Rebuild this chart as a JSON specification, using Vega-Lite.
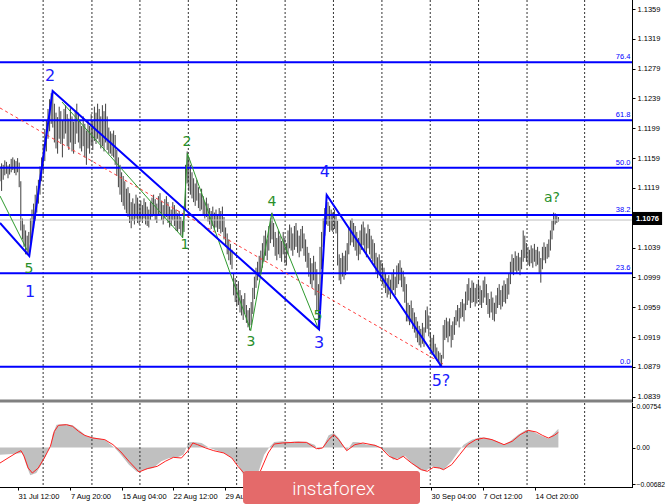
{
"$schema":"https://vega.github.io/schema/vega-lite/v6.json",
"padding":0,
"autosize":{"type":"pad"},
"background":"white",
"spacing":3,
"bounds":"flush",
"config":{"view":{"stroke":null},"font":"Liberation Sans","axis":{"grid":false,"title":null}},
"datasets":{
"bars":[
{"i":0,"l":1.1128,"h":1.1148},{"i":1,"l":1.1115,"h":1.1152},{"i":2,"l":1.1130,"h":1.1150},{"i":3,"l":1.1136,"h":1.1156},{"i":4,"l":1.1138,"h":1.1154},{"i":5,"l":1.1132,"h":1.1149},{"i":6,"l":1.1137,"h":1.1151},{"i":7,"l":1.1140,"h":1.1158},{"i":8,"l":1.1143,"h":1.1160},{"i":9,"l":1.1139,"h":1.1157},
{"i":10,"l":1.1136,"h":1.1155},{"i":11,"l":1.1140,"h":1.1159},{"i":12,"l":1.1120,"h":1.1153},{"i":13,"l":1.1062,"h":1.1128},{"i":14,"l":1.1050,"h":1.1078},{"i":15,"l":1.1040,"h":1.1070},{"i":16,"l":1.1030,"h":1.1062},{"i":17,"l":1.1029,"h":1.1055},{"i":18,"l":1.1032,"h":1.1060},{"i":19,"l":1.1045,"h":1.1078},
{"i":20,"l":1.1055,"h":1.1090},{"i":21,"l":1.1065,"h":1.1098},{"i":22,"l":1.1075,"h":1.1110},{"i":23,"l":1.1086,"h":1.1122},{"i":24,"l":1.1098,"h":1.1130},{"i":25,"l":1.1110,"h":1.1148},{"i":26,"l":1.1128,"h":1.1160},{"i":27,"l":1.1140,"h":1.1178},{"i":28,"l":1.1155,"h":1.1198},{"i":29,"l":1.1168,"h":1.1210},
{"i":30,"l":1.1185,"h":1.1225},{"i":31,"l":1.1195,"h":1.1238},{"i":32,"l":1.1205,"h":1.1246},{"i":33,"l":1.1200,"h":1.1249},{"i":34,"l":1.1180,"h":1.1232},{"i":35,"l":1.1172,"h":1.1220},{"i":36,"l":1.1165,"h":1.1214},{"i":37,"l":1.1185,"h":1.1228},{"i":38,"l":1.1178,"h":1.1222},{"i":39,"l":1.1160,"h":1.1210},
{"i":40,"l":1.1185,"h":1.1225},{"i":41,"l":1.1192,"h":1.1230},{"i":42,"l":1.1175,"h":1.1218},{"i":43,"l":1.1170,"h":1.1212},{"i":44,"l":1.1180,"h":1.1226},{"i":45,"l":1.1168,"h":1.1215},{"i":46,"l":1.1165,"h":1.1208},{"i":47,"l":1.1178,"h":1.1222},{"i":48,"l":1.1192,"h":1.1232},{"i":49,"l":1.1180,"h":1.1220},
{"i":50,"l":1.1172,"h":1.1210},{"i":51,"l":1.1168,"h":1.1202},{"i":52,"l":1.1175,"h":1.1215},{"i":53,"l":1.1160,"h":1.1205},{"i":54,"l":1.1150,"h":1.1196},{"i":55,"l":1.1172,"h":1.1210},{"i":56,"l":1.1165,"h":1.1202},{"i":57,"l":1.1176,"h":1.1218},{"i":58,"l":1.1170,"h":1.1210},{"i":59,"l":1.1182,"h":1.1228},
{"i":60,"l":1.1178,"h":1.1220},{"i":61,"l":1.1185,"h":1.1232},{"i":62,"l":1.1180,"h":1.1225},{"i":63,"l":1.1172,"h":1.1215},{"i":64,"l":1.1175,"h":1.1230},{"i":65,"l":1.1168,"h":1.1222},{"i":66,"l":1.1180,"h":1.1232},{"i":67,"l":1.1170,"h":1.1215},{"i":68,"l":1.1165,"h":1.1200},{"i":69,"l":1.1165,"h":1.1195},
{"i":70,"l":1.1162,"h":1.1192},{"i":71,"l":1.1160,"h":1.1196},{"i":72,"l":1.1150,"h":1.1190},{"i":73,"l":1.1135,"h":1.1170},{"i":74,"l":1.1120,"h":1.1160},{"i":75,"l":1.1110,"h":1.1150},{"i":76,"l":1.1100,"h":1.1140},{"i":77,"l":1.1095,"h":1.1135},{"i":78,"l":1.1090,"h":1.1128},{"i":79,"l":1.1085,"h":1.1118},
{"i":80,"l":1.1080,"h":1.1120},{"i":81,"l":1.1072,"h":1.1112},{"i":82,"l":1.1065,"h":1.1100},{"i":83,"l":1.1075,"h":1.1105},{"i":84,"l":1.1070,"h":1.1098},{"i":85,"l":1.1078,"h":1.1110},{"i":86,"l":1.1072,"h":1.1106},{"i":87,"l":1.1070,"h":1.1098},{"i":88,"l":1.1075,"h":1.1102},{"i":89,"l":1.1072,"h":1.1096},
{"i":90,"l":1.1078,"h":1.1105},{"i":91,"l":1.1070,"h":1.1100},{"i":92,"l":1.1068,"h":1.1094},{"i":93,"l":1.1066,"h":1.1090},{"i":94,"l":1.1076,"h":1.1100},{"i":95,"l":1.1080,"h":1.1106},{"i":96,"l":1.1082,"h":1.1110},{"i":97,"l":1.1076,"h":1.1104},{"i":98,"l":1.1072,"h":1.1098},{"i":99,"l":1.1082,"h":1.1108},
{"i":100,"l":1.1084,"h":1.1112},{"i":101,"l":1.1076,"h":1.1102},{"i":102,"l":1.1070,"h":1.1096},{"i":103,"l":1.1078,"h":1.1104},{"i":104,"l":1.1080,"h":1.1108},{"i":105,"l":1.1072,"h":1.1100},{"i":106,"l":1.1066,"h":1.1094},{"i":107,"l":1.1068,"h":1.1090},{"i":108,"l":1.1076,"h":1.1100},{"i":109,"l":1.1068,"h":1.1096},
{"i":110,"l":1.1062,"h":1.1090},{"i":111,"l":1.1060,"h":1.1085},{"i":112,"l":1.1064,"h":1.1088},{"i":113,"l":1.1056,"h":1.1080},{"i":114,"l":1.1052,"h":1.1075},{"i":115,"l":1.1060,"h":1.1095},{"i":116,"l":1.1090,"h":1.1150},{"i":117,"l":1.1125,"h":1.1168},{"i":118,"l":1.1115,"h":1.1160},{"i":119,"l":1.1110,"h":1.1150},
{"i":120,"l":1.1105,"h":1.1140},{"i":121,"l":1.1100,"h":1.1132},{"i":122,"l":1.1095,"h":1.1125},{"i":123,"l":1.1102,"h":1.1130},{"i":124,"l":1.1092,"h":1.1120},{"i":125,"l":1.1088,"h":1.1112},{"i":126,"l":1.1090,"h":1.1118},{"i":127,"l":1.1082,"h":1.1108},{"i":128,"l":1.1078,"h":1.1100},{"i":129,"l":1.1080,"h":1.1106},
{"i":130,"l":1.1074,"h":1.1098},{"i":131,"l":1.1070,"h":1.1092},{"i":132,"l":1.1064,"h":1.1088},{"i":133,"l":1.1068,"h":1.1094},{"i":134,"l":1.1062,"h":1.1086},{"i":135,"l":1.1066,"h":1.1090},{"i":136,"l":1.1060,"h":1.1084},{"i":137,"l":1.1064,"h":1.1092},{"i":138,"l":1.1058,"h":1.1088},{"i":139,"l":1.1060,"h":1.1094},
{"i":140,"l":1.1050,"h":1.1080},{"i":141,"l":1.1040,"h":1.1066},{"i":142,"l":1.1030,"h":1.1058},{"i":143,"l":1.1022,"h":1.1050},{"i":144,"l":1.1016,"h":1.1044},{"i":145,"l":1.1010,"h":1.1036},{"i":146,"l":1.0975,"h":1.1005},{"i":147,"l":1.0966,"h":1.0998},{"i":148,"l":1.0960,"h":1.0990},{"i":149,"l":1.0962,"h":1.0994},
{"i":150,"l":1.0952,"h":1.0982},{"i":151,"l":1.0948,"h":1.0975},{"i":152,"l":1.0942,"h":1.0970},{"i":153,"l":1.0950,"h":1.0978},{"i":154,"l":1.0938,"h":1.0962},{"i":155,"l":1.0932,"h":1.0955},{"i":156,"l":1.0928,"h":1.0958},{"i":157,"l":1.0935,"h":1.0966},{"i":158,"l":1.0950,"h":1.0985},{"i":159,"l":1.0970,"h":1.1000},
{"i":160,"l":1.0985,"h":1.1012},{"i":161,"l":1.0995,"h":1.1020},{"i":162,"l":1.1000,"h":1.1028},{"i":163,"l":1.1005,"h":1.1035},{"i":164,"l":1.1012,"h":1.1045},{"i":165,"l":1.1020,"h":1.1055},{"i":166,"l":1.1028,"h":1.1062},{"i":167,"l":1.1022,"h":1.1050},{"i":168,"l":1.1035,"h":1.1068},{"i":169,"l":1.1045,"h":1.1078},
{"i":170,"l":1.1050,"h":1.1086},{"i":171,"l":1.1040,"h":1.1072},{"i":172,"l":1.1028,"h":1.1060},{"i":173,"l":1.1022,"h":1.1052},{"i":174,"l":1.1030,"h":1.1062},{"i":175,"l":1.1025,"h":1.1055},{"i":176,"l":1.1020,"h":1.1048},{"i":177,"l":1.1030,"h":1.1060},{"i":178,"l":1.1018,"h":1.1052},{"i":179,"l":1.1015,"h":1.1045},
{"i":180,"l":1.1030,"h":1.1062},{"i":181,"l":1.1038,"h":1.1070},{"i":182,"l":1.1035,"h":1.1066},{"i":183,"l":1.1028,"h":1.1058},{"i":184,"l":1.1036,"h":1.1068},{"i":185,"l":1.1040,"h":1.1072},{"i":186,"l":1.1032,"h":1.1062},{"i":187,"l":1.1026,"h":1.1055},{"i":188,"l":1.1034,"h":1.1064},{"i":189,"l":1.1038,"h":1.1068},
{"i":190,"l":1.1028,"h":1.1058},{"i":191,"l":1.1020,"h":1.1050},{"i":192,"l":1.1012,"h":1.1040},{"i":193,"l":1.1000,"h":1.1032},{"i":194,"l":1.0990,"h":1.1025},{"i":195,"l":1.0985,"h":1.1018},{"i":196,"l":1.0995,"h":1.1028},{"i":197,"l":1.0975,"h":1.1020},{"i":198,"l":1.0955,"h":1.1010},{"i":199,"l":1.0930,"h":1.0990},
{"i":200,"l":1.0950,"h":1.1040},{"i":201,"l":1.1010,"h":1.1060},{"i":202,"l":1.1040,"h":1.1078},{"i":203,"l":1.1055,"h":1.1092},{"i":204,"l":1.1070,"h":1.1110},{"i":205,"l":1.1068,"h":1.1100},{"i":206,"l":1.1060,"h":1.1095},{"i":207,"l":1.1062,"h":1.1090},{"i":208,"l":1.1060,"h":1.1086},{"i":209,"l":1.1064,"h":1.1090},
{"i":210,"l":1.1058,"h":1.1084},{"i":211,"l":1.1015,"h":1.1075},{"i":212,"l":1.0995,"h":1.1030},{"i":213,"l":1.0990,"h":1.1025},{"i":214,"l":1.1000,"h":1.1032},{"i":215,"l":1.0996,"h":1.1028},{"i":216,"l":1.1002,"h":1.1035},{"i":217,"l":1.1008,"h":1.1045},{"i":218,"l":1.1030,"h":1.1066},{"i":219,"l":1.1042,"h":1.1076},
{"i":220,"l":1.1046,"h":1.1078},{"i":221,"l":1.1040,"h":1.1072},{"i":222,"l":1.1035,"h":1.1068},{"i":223,"l":1.1028,"h":1.1060},{"i":224,"l":1.1022,"h":1.1052},{"i":225,"l":1.1030,"h":1.1062},{"i":226,"l":1.1036,"h":1.1070},{"i":227,"l":1.1042,"h":1.1074},{"i":228,"l":1.1034,"h":1.1066},{"i":229,"l":1.1026,"h":1.1058},
{"i":230,"l":1.1038,"h":1.1070},{"i":231,"l":1.1030,"h":1.1064},{"i":232,"l":1.1024,"h":1.1055},{"i":233,"l":1.1020,"h":1.1050},{"i":234,"l":1.1015,"h":1.1045},{"i":235,"l":1.1004,"h":1.1032},{"i":236,"l":1.0998,"h":1.1026},{"i":237,"l":1.1002,"h":1.1030},{"i":238,"l":1.0994,"h":1.1022},{"i":239,"l":1.0990,"h":1.1018},
{"i":240,"l":1.0985,"h":1.1012},{"i":241,"l":1.0978,"h":1.1005},{"i":242,"l":1.0972,"h":1.0998},{"i":243,"l":1.0976,"h":1.1002},{"i":244,"l":1.0970,"h":1.0996},{"i":245,"l":1.0978,"h":1.1004},{"i":246,"l":1.0982,"h":1.1010},{"i":247,"l":1.0975,"h":1.1000},{"i":248,"l":1.0985,"h":1.1015},{"i":249,"l":1.0990,"h":1.1018},
{"i":250,"l":1.0995,"h":1.1022},{"i":251,"l":1.0986,"h":1.1012},{"i":252,"l":1.0980,"h":1.1008},{"i":253,"l":1.0965,"h":1.1000},{"i":254,"l":1.0940,"h":1.0990},{"i":255,"l":1.0940,"h":1.0965},{"i":256,"l":1.0935,"h":1.0962},{"i":257,"l":1.0940,"h":1.0968},{"i":258,"l":1.0930,"h":1.0958},{"i":259,"l":1.0925,"h":1.0952},
{"i":260,"l":1.0918,"h":1.0946},{"i":261,"l":1.0912,"h":1.0940},{"i":262,"l":1.0908,"h":1.0934},{"i":263,"l":1.0905,"h":1.0930},{"i":264,"l":1.0910,"h":1.0938},{"i":265,"l":1.0906,"h":1.0932},{"i":266,"l":1.0925,"h":1.0955},{"i":267,"l":1.0930,"h":1.0960},{"i":268,"l":1.0920,"h":1.0948},{"i":269,"l":1.0900,"h":1.0925},
{"i":270,"l":1.0895,"h":1.0918},{"i":271,"l":1.0898,"h":1.0922},{"i":272,"l":1.0890,"h":1.0910},{"i":273,"l":1.0888,"h":1.0905},{"i":274,"l":1.0885,"h":1.0900},{"i":275,"l":1.0880,"h":1.0898},{"i":276,"l":1.0879,"h":1.0895},{"i":277,"l":1.0890,"h":1.0935},{"i":278,"l":1.0915,"h":1.0942},{"i":279,"l":1.0918,"h":1.0945},
{"i":280,"l":1.0912,"h":1.0940},{"i":281,"l":1.0920,"h":1.0944},{"i":282,"l":1.0905,"h":1.0935},{"i":283,"l":1.0915,"h":1.0940},{"i":284,"l":1.0922,"h":1.0946},{"i":285,"l":1.0935,"h":1.0955},{"i":286,"l":1.0940,"h":1.0962},{"i":287,"l":1.0932,"h":1.0958},{"i":288,"l":1.0944,"h":1.0966},{"i":289,"l":1.0946,"h":1.0970},
{"i":290,"l":1.0940,"h":1.0964},{"i":291,"l":1.0955,"h":1.0980},{"i":292,"l":1.0962,"h":1.0990},{"i":293,"l":1.0968,"h":1.0998},{"i":294,"l":1.0958,"h":1.0985},{"i":295,"l":1.0965,"h":1.0995},{"i":296,"l":1.0966,"h":1.0992},{"i":297,"l":1.0960,"h":1.0985},{"i":298,"l":1.0964,"h":1.0990},{"i":299,"l":1.0970,"h":1.0996},
{"i":300,"l":1.0962,"h":1.0988},{"i":301,"l":1.0958,"h":1.0982},{"i":302,"l":1.0965,"h":1.0995},{"i":303,"l":1.0972,"h":1.1000},{"i":304,"l":1.0962,"h":1.0990},{"i":305,"l":1.0950,"h":1.0978},{"i":306,"l":1.0945,"h":1.0970},{"i":307,"l":1.0952,"h":1.0980},{"i":308,"l":1.0942,"h":1.0972},{"i":309,"l":1.0940,"h":1.0965},
{"i":310,"l":1.0950,"h":1.0975},{"i":311,"l":1.0958,"h":1.0985},{"i":312,"l":1.0962,"h":1.0990},{"i":313,"l":1.0956,"h":1.0982},{"i":314,"l":1.0960,"h":1.0988},{"i":315,"l":1.0966,"h":1.0995},{"i":316,"l":1.0964,"h":1.0990},{"i":317,"l":1.0970,"h":1.0998},{"i":318,"l":1.0976,"h":1.1005},{"i":319,"l":1.0990,"h":1.1020},
{"i":320,"l":1.1005,"h":1.1030},{"i":321,"l":1.1002,"h":1.1025},{"i":322,"l":1.1008,"h":1.1034},{"i":323,"l":1.1004,"h":1.1028},{"i":324,"l":1.1008,"h":1.1032},{"i":325,"l":1.1002,"h":1.1026},{"i":326,"l":1.1010,"h":1.1036},{"i":327,"l":1.1020,"h":1.1062},{"i":328,"l":1.1025,"h":1.1055},{"i":329,"l":1.1020,"h":1.1045},
{"i":330,"l":1.1016,"h":1.1040},{"i":331,"l":1.1014,"h":1.1036},{"i":332,"l":1.1018,"h":1.1042},{"i":333,"l":1.1012,"h":1.1038},{"i":334,"l":1.1020,"h":1.1044},{"i":335,"l":1.1014,"h":1.1036},{"i":336,"l":1.1016,"h":1.1040},{"i":337,"l":1.1005,"h":1.1034},{"i":338,"l":1.0992,"h":1.1025},{"i":339,"l":1.1010,"h":1.1040},
{"i":340,"l":1.1022,"h":1.1046},{"i":341,"l":1.1018,"h":1.1040},{"i":342,"l":1.1024,"h":1.1044},{"i":343,"l":1.1026,"h":1.1050},{"i":344,"l":1.1035,"h":1.1062},{"i":345,"l":1.1050,"h":1.1075},{"i":346,"l":1.1062,"h":1.1086},{"i":347,"l":1.1070,"h":1.1085},{"i":348,"l":1.1072,"h":1.1084},{"i":349,"l":1.1074,"h":1.1080}
],
"grid":[{"i":26.96},{"i":57.46},{"i":87.46},{"i":117.7},{"i":147.9},{"i":178.2},{"i":208.4},{"i":238.7},{"i":268.9},{"i":299.1},{"i":329.4},{"i":365.4}],
"fib":[{"p":1.12875,"t":"76.4"},{"p":1.12098,"t":"61.8"},{"p":1.11462,"t":"50.0"},{"p":1.10827,"t":"38.2"},{"p":1.10046,"t":"23.6"},{"p":1.08793,"t":"0.0"}],
"blue":[{"i":0,"p":1.1072},{"i":18.3,"p":1.10278},{"i":32.9,"p":1.12491},{"i":199.4,"p":1.09294},{"i":204.2,"p":1.11096},{"i":275.9,"p":1.08796}],
"green":[{"s":"a","i":0,"p":1.11082},{"s":"a","i":16.9,"p":1.10358},{"s":"b","i":38.75,"p":1.12343},{"s":"b","i":114.2,"p":1.10526},{"s":"b","i":117.1,"p":1.11655},{"s":"b","i":156.7,"p":1.09276},{"s":"b","i":169.8,"p":1.1085},{"s":"b","i":198.9,"p":1.09308}],
"trend":[{"i":0,"p":1.12263},{"i":276.9,"p":1.08829}],
"waves":[
{"i":31.25,"p":1.12692,"t":"2","d":"major"},{"i":18.75,"p":1.09795,"t":"1","d":"major"},{"i":199.4,"p":1.09111,"t":"3","d":"major"},{"i":203.1,"p":1.11404,"t":"4","d":"major"},{"i":275.6,"p":1.08601,"t":"5?","d":"major"},
{"i":18.1,"p":1.10103,"t":"5","d":"minor"},{"i":115.6,"p":1.10425,"t":"1","d":"minor"},{"i":116.9,"p":1.11807,"t":"2","d":"minor"},{"i":156.9,"p":1.09124,"t":"3","d":"minor"},{"i":170,"p":1.11002,"t":"4","d":"minor"},{"i":198.75,"p":1.09473,"t":"5","d":"minor"},{"i":345,"p":1.11055,"t":"a?","d":"minor"}
],
"hist":[
{"i":0,"v":-0.00133},{"i":7.6,"v":-0.00121},{"i":13.9,"v":-0.00102},{"i":16.4,"v":-0.00319},{"i":18.9,"v":-0.00517},{"i":22.7,"v":-0.00474},{"i":26.5,"v":-0.00288},{"i":29.7,"v":-0.00071},{"i":31.5,"v":0.00003},{"i":32.8,"v":0.00238},{"i":35.3,"v":0.00424},{"i":40.3,"v":0.00437},{"i":45.4,"v":0.00412},{"i":50.4,"v":0.003},{"i":54.2,"v":0.00207},{"i":60.5,"v":0.00176},{"i":65.5,"v":0.00146},{"i":69.3,"v":0.00053},{"i":71.8,"v":-0.00009},{"i":75.6,"v":-0.00133},{"i":80.6,"v":-0.00319},{"i":85.7,"v":-0.00455},{"i":90.7,"v":-0.00412},{"i":95.8,"v":-0.00381},{"i":100.8,"v":-0.00257},{"i":105.8,"v":-0.00195},{"i":110.9,"v":-0.00183},{"i":114.7,"v":-0.00133},{"i":116.4,"v":-0.00009},{"i":117.9,"v":0.00096},{"i":121,"v":0.00102},{"i":126,"v":0.00084},{"i":131,"v":-0.00009},{"i":136.1,"v":-0.00059},{"i":141.1,"v":-0.00121},{"i":144.9,"v":-0.00195},{"i":148.7,"v":-0.00319},{"i":152.5,"v":-0.00536},{"i":156.3,"v":-0.00616},{"i":161.3,"v":-0.00474},{"i":165.1,"v":-0.00133},{"i":168.3,"v":0.00003},{"i":171.4,"v":0.00102},{"i":176.4,"v":0.00115},{"i":181.5,"v":0.00102},{"i":186.5,"v":0.00115},{"i":191.5,"v":0.00102},{"i":196.6,"v":0.00053},{"i":199.1,"v":-0.0004},{"i":201.6,"v":-0.00009},{"i":205.4,"v":0.00226},{"i":208.7,"v":0.00269},{"i":211.7,"v":0.00176},{"i":214.2,"v":0.00053},{"i":216.7,"v":-0.00059},{"i":220.5,"v":0.00102},{"i":224.3,"v":0.00096},{"i":229.3,"v":0.00053},{"i":234.4,"v":0.00053},{"i":238.2,"v":-0.00009},{"i":241.9,"v":-0.00102},{"i":245.7,"v":-0.00226},{"i":249.5,"v":-0.00195},{"i":253.3,"v":-0.00164},{"i":257.1,"v":-0.00288},{"i":262.1,"v":-0.00412},{"i":265.9,"v":-0.00443},{"i":269.7,"v":-0.0035},{"i":273.4,"v":-0.00381},{"i":277.2,"v":-0.00412},{"i":282.3,"v":-0.00257},{"i":287.3,"v":-0.0004},{"i":289.8,"v":0.00053},{"i":294.9,"v":0.00146},{"i":299.9,"v":0.00189},{"i":304.9,"v":0.00176},{"i":310,"v":0.00127},{"i":315,"v":0.00053},{"i":318.8,"v":0.00115},{"i":323.8,"v":0.00238},{"i":328.9,"v":0.00331},{"i":332.7,"v":0.003},{"i":337.7,"v":0.00226},{"i":342.7,"v":0.00164},{"i":346.5,"v":0.00269},{"i":349,"v":0.0035}
],
"sig":[
{"i":0,"v":-0.00288},{"i":5,"v":-0.00195},{"i":10.1,"v":-0.00102},{"i":13.1,"v":-0.00059},{"i":15.1,"v":-0.00164},{"i":17.6,"v":-0.00381},{"i":20.2,"v":-0.00474},{"i":23.9,"v":-0.00381},{"i":27.7,"v":-0.00195},{"i":31.5,"v":0.00022},{"i":34,"v":0.003},{"i":36.5,"v":0.00412},{"i":41.6,"v":0.00424},{"i":45.4,"v":0.00393},{"i":49.1,"v":0.003},{"i":52.9,"v":0.00226},{"i":58,"v":0.00176},{"i":65.5,"v":0.00146},{"i":70.6,"v":0.00053},{"i":75.6,"v":-0.00084},{"i":80.6,"v":-0.00257},{"i":86.9,"v":-0.00455},{"i":92,"v":-0.00393},{"i":98.3,"v":-0.0035},{"i":103.3,"v":-0.00257},{"i":108.4,"v":-0.00183},{"i":113.4,"v":-0.00195},{"i":117.2,"v":-0.00071},{"i":120.5,"v":0.00084},{"i":123.5,"v":0.00053},{"i":128.5,"v":-0.00009},{"i":133.6,"v":-0.00059},{"i":139.9,"v":-0.00102},{"i":144.9,"v":-0.00195},{"i":148.7,"v":-0.0035},{"i":152.5,"v":-0.00474},{"i":157.5,"v":-0.00567},{"i":162.5,"v":-0.00455},{"i":167.6,"v":-0.00102},{"i":171.4,"v":0.00065},{"i":176.4,"v":0.00084},{"i":184,"v":0.00096},{"i":191.5,"v":0.00096},{"i":197.8,"v":-0.00022},{"i":201.6,"v":-0.00009},{"i":205.4,"v":0.00146},{"i":208.7,"v":0.00238},{"i":211.7,"v":0.00146},{"i":216.7,"v":-0.00059},{"i":221.8,"v":0.00053},{"i":226.8,"v":0.00084},{"i":234.4,"v":0.0004},{"i":238.2,"v":-0.00009},{"i":243.2,"v":-0.00164},{"i":248.2,"v":-0.00226},{"i":252,"v":-0.00164},{"i":257.1,"v":-0.00288},{"i":263.4,"v":-0.00412},{"i":267.1,"v":-0.00443},{"i":270.9,"v":-0.00368},{"i":274.7,"v":-0.00381},{"i":277.2,"v":-0.00412},{"i":282.3,"v":-0.00319},{"i":287.3,"v":-0.00133},{"i":292.3,"v":0.00053},{"i":297.4,"v":0.00146},{"i":302.4,"v":0.00176},{"i":307.5,"v":0.00146},{"i":315,"v":0.00053},{"i":320.1,"v":0.00115},{"i":325.1,"v":0.00238},{"i":330.1,"v":0.00319},{"i":335.2,"v":0.00288},{"i":339,"v":0.00226},{"i":342.7,"v":0.00176},{"i":346.5,"v":0.00226},{"i":349,"v":0.00282}
]
},
"vconcat":[
{
"width":632,"height":400,
"layer":[
{"data":{"name":"bars"},"mark":{"type":"rule","color":"#404040","strokeWidth":1,"clip":true},
 "encoding":{
  "x":{"field":"i","type":"quantitative","scale":{"domain":[0,395],"nice":false,"zero":false},"axis":null},
  "y":{"field":"l","type":"quantitative","scale":{"domain":[1.08346,1.13711],"nice":false,"zero":false},
       "axis":{"orient":"right","values":[1.1359,1.1319,1.1279,1.1239,1.1199,1.1159,1.1119,1.1079,1.1039,1.0999,1.0959,1.0919,1.0879,1.0839],"tickCount":30,"format":".4f","title":null,"grid":false,"domain":false,"tickColor":"#000000","tickSize":3,"labelPadding":2,"labelFontSize":7.5,"labelFont":"Liberation Sans","labelColor":"#000000","labelFlush":false,"labelOverlap":false,"labelBound":false}},
  "y2":{"field":"h"}}},
{"data":{"name":"grid"},"mark":{"type":"rule","color":"#333333","strokeDash":[2,2],"strokeWidth":1,"clip":true},
 "encoding":{"x":{"field":"i","type":"quantitative","scale":{"domain":[0,395],"nice":false,"zero":false}}}},
{"data":{"values":[{"p":1.1076}]},"mark":{"type":"rule","color":"#c0c0c0","strokeWidth":1,"clip":true},
 "encoding":{"y":{"field":"p","type":"quantitative","scale":{"domain":[1.08346,1.13711],"nice":false,"zero":false}}}},
{"data":{"name":"fib"},"mark":{"type":"rule","color":"#0000ff","strokeWidth":2,"clip":true},
 "encoding":{"y":{"field":"p","type":"quantitative","scale":{"domain":[1.08346,1.13711],"nice":false,"zero":false}}}},
{"data":{"name":"fib"},"mark":{"type":"text","color":"#0000ff","fontSize":7.5,"font":"Liberation Sans","align":"right","baseline":"bottom","dy":-1},
 "encoding":{"x":{"datum":394,"type":"quantitative","scale":{"domain":[0,395],"nice":false,"zero":false}},
  "y":{"field":"p","type":"quantitative","scale":{"domain":[1.08346,1.13711],"nice":false,"zero":false}},
  "text":{"field":"t"}}},
{"data":{"name":"trend"},"mark":{"type":"line","color":"#ff3b3b","strokeDash":[3,3],"strokeWidth":1,"clip":true},
 "encoding":{"x":{"field":"i","type":"quantitative","scale":{"domain":[0,395],"nice":false,"zero":false}},
  "y":{"field":"p","type":"quantitative","scale":{"domain":[1.08346,1.13711],"nice":false,"zero":false}}}},
{"data":{"name":"green"},"mark":{"type":"line","color":"#2e9a2e","strokeWidth":1,"clip":true},
 "encoding":{"x":{"field":"i","type":"quantitative","scale":{"domain":[0,395],"nice":false,"zero":false}},
  "y":{"field":"p","type":"quantitative","scale":{"domain":[1.08346,1.13711],"nice":false,"zero":false}},
  "detail":{"field":"s"}}},
{"data":{"name":"blue"},"mark":{"type":"line","color":"#0000ff","strokeWidth":2,"clip":true},
 "encoding":{"x":{"field":"i","type":"quantitative","scale":{"domain":[0,395],"nice":false,"zero":false}},
  "y":{"field":"p","type":"quantitative","scale":{"domain":[1.08346,1.13711],"nice":false,"zero":false}}}},
{"data":{"name":"waves"},"transform":[{"filter":"datum.d == 'major'"}],"mark":{"type":"text","color":"#1a1aff","fontSize":16,"font":"DejaVu Sans","align":"center","baseline":"middle"},
 "encoding":{"x":{"field":"i","type":"quantitative","scale":{"domain":[0,395],"nice":false,"zero":false}},
  "y":{"field":"p","type":"quantitative","scale":{"domain":[1.08346,1.13711],"nice":false,"zero":false}},
  "text":{"field":"t"}}},
{"data":{"name":"waves"},"transform":[{"filter":"datum.d == 'minor'"}],"mark":{"type":"text","color":"#2a8f2a","fontSize":14,"font":"DejaVu Sans","align":"center","baseline":"middle"},
 "encoding":{"x":{"field":"i","type":"quantitative","scale":{"domain":[0,395],"nice":false,"zero":false}},
  "y":{"field":"p","type":"quantitative","scale":{"domain":[1.08346,1.13711],"nice":false,"zero":false}},
  "text":{"field":"t"}}},
{"data":{"values":[{}]},"mark":{"type":"rect","color":"#808080","clip":false},
 "encoding":{"x":{"datum":0,"type":"quantitative","scale":{"domain":[0,395],"nice":false,"zero":false}},"x2":{"datum":395},
  "y":{"datum":1.08353,"type":"quantitative","scale":{"domain":[1.08346,1.13711],"nice":false,"zero":false}},"y2":{"datum":1.08313}}},
{"data":{"values":[{}]},"mark":{"type":"rect","color":"#000000","clip":false},
 "encoding":{"x":{"datum":395,"type":"quantitative","scale":{"domain":[0,395],"nice":false,"zero":false}},"x2":{"datum":395.625},
  "y":{"datum":1.13711,"type":"quantitative","scale":{"domain":[1.08346,1.13711],"nice":false,"zero":false}},"y2":{"datum":1.08313}}},
{"data":{"values":[{}]},"mark":{"type":"rect","color":"#000000","clip":false},
 "encoding":{"x":{"datum":395.6,"type":"quantitative","scale":{"domain":[0,395],"nice":false,"zero":false}},"x2":{"datum":413.8},
  "y":{"datum":1.10868,"type":"quantitative","scale":{"domain":[1.08346,1.13711],"nice":false,"zero":false}},"y2":{"datum":1.10693}}},
{"data":{"values":[{}]},"mark":{"type":"text","color":"#ffffff","fontSize":7.5,"font":"Liberation Sans","fontWeight":"bold","align":"center","baseline":"middle","clip":false},
 "encoding":{"x":{"datum":404.7,"type":"quantitative","scale":{"domain":[0,395],"nice":false,"zero":false}},
  "y":{"datum":1.1078,"type":"quantitative","scale":{"domain":[1.08346,1.13711],"nice":false,"zero":false}},
  "text":{"value":"1.1076"}}}
]
},
{
"width":632,"height":84,
"layer":[
{"data":{"name":"hist"},"mark":{"type":"area","color":"#c0c0c0","opacity":1,"clip":true},
 "encoding":{
  "x":{"field":"i","type":"quantitative","scale":{"domain":[0,395],"nice":false,"zero":false},
       "axis":{"orient":"bottom","values":[11.25,44.06,76.25,108.1,140.6,269.4,301.9,334.4],"tickCount":30,
         "labelExpr":"['31 Jul 12:00','7 Aug 20:00','15 Aug 04:00','22 Aug 12:00','29 Aug 20:00','30 Sep 04:00','7 Oct 12:00','14 Oct 20:00'][indexof([11.25,44.06,76.25,108.1,140.6,269.4,301.9,334.4], datum.value)]",
         "title":null,"grid":false,"domain":false,"tickColor":"#000000","tickSize":3,"labelAlign":"left","labelBaseline":"top","labelPadding":2,"labelFontSize":7.5,"labelFont":"Liberation Sans","labelColor":"#000000","labelFlush":false,"labelOverlap":false,"labelBound":false}},
  "y":{"field":"v","type":"quantitative","scale":{"domain":[-0.00734,0.00827],"nice":false,"zero":false},
       "axis":{"orient":"right","values":[0.00754,0,-0.00682],"tickCount":10,"labelExpr":"datum.value == 0 ? '0.00' : format(datum.value, '.5f')","title":null,"grid":false,"domain":false,"tickColor":"#000000","tickSize":3,"labelPadding":1,"labelFontSize":6.8,"labelFont":"Liberation Sans","labelColor":"#000000","labelFlush":false,"labelOverlap":false,"labelBound":false}},
  "y2":{"datum":0}}},
{"data":{"name":"grid"},"mark":{"type":"rule","color":"#333333","strokeDash":[2,2],"strokeWidth":1,"clip":true},
 "encoding":{"x":{"field":"i","type":"quantitative","scale":{"domain":[0,395],"nice":false,"zero":false}}}},
{"data":{"name":"sig"},"mark":{"type":"line","color":"#ff2020","strokeWidth":1,"clip":true},
 "encoding":{"x":{"field":"i","type":"quantitative","scale":{"domain":[0,395],"nice":false,"zero":false}},
  "y":{"field":"v","type":"quantitative","scale":{"domain":[-0.00734,0.00827],"nice":false,"zero":false}}}},
{"data":{"values":[{}]},"mark":{"type":"rect","color":"#000000","clip":false},
 "encoding":{"x":{"datum":0,"type":"quantitative","scale":{"domain":[0,395],"nice":false,"zero":false}},"x2":{"datum":395.625},
  "y":{"datum":-0.00734,"type":"quantitative","scale":{"domain":[-0.00734,0.00827],"nice":false,"zero":false}},"y2":{"datum":-0.007526}}},
{"data":{"values":[{}]},"mark":{"type":"rect","color":"#000000","clip":false},
 "encoding":{"x":{"datum":395,"type":"quantitative","scale":{"domain":[0,395],"nice":false,"zero":false}},"x2":{"datum":395.625},
  "y":{"datum":0.00827,"type":"quantitative","scale":{"domain":[-0.00734,0.00827],"nice":false,"zero":false}},"y2":{"datum":-0.007526}}},
{"data":{"values":[{}]},"mark":{"type":"rect","color":"#e46a6a","cornerRadius":3,"clip":false},
 "encoding":{"x":{"datum":151.9,"type":"quantitative","scale":{"domain":[0,395],"nice":false,"zero":false}},"x2":{"datum":262.5},
  "y":{"datum":-0.00437,"type":"quantitative","scale":{"domain":[-0.00734,0.00827],"nice":false,"zero":false}},"y2":{"datum":-0.0105}}},
{"data":{"values":[{}]},"mark":{"type":"text","color":"#ffffff","fontSize":19,"font":"Roboto","fontWeight":300,"align":"center","baseline":"middle","clip":false},
 "encoding":{"x":{"datum":208.5,"type":"quantitative","scale":{"domain":[0,395],"nice":false,"zero":false}},
  "y":{"datum":-0.0078,"type":"quantitative","scale":{"domain":[-0.00734,0.00827],"nice":false,"zero":false}},
  "text":{"value":"instaforex"}}}
]
}
]
}
